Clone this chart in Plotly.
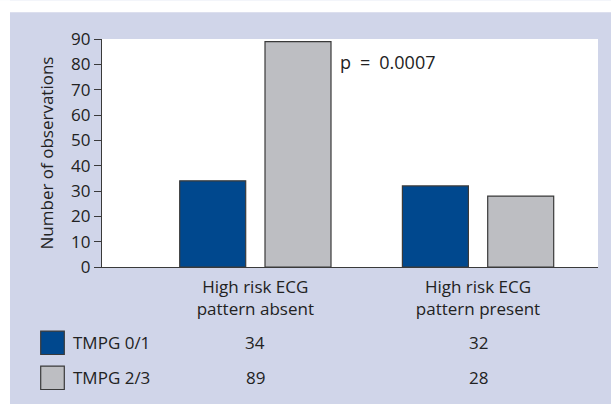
import plotly.graph_objects as go

categories = ["High risk ECG<br>pattern absent", "High risk ECG<br>pattern present"]
series_names = ["TMPG 0/1", "TMPG 2/3"]
tmpg01 = [34, 32]
tmpg23 = [89, 28]
y_ticks = [0, 10, 20, 30, 40, 50, 60, 70, 80, 90]
p_text = "p\u2002=\u20020.0007"
y_title = "Number of observations"

W, H = 611, 404
L, R, T, B = 102, 598, 38.7, 266.7
BLUE = "#00488E"
GRAY = "#BDBEC2"
PANEL = "#D0D5E9"
EDGE = "#3a3a3a"
FONT = "Open Sans"
TXT = "#222222"


def px(x):
    return (x - L) / (R - L)


def py(y):
    return (B - y) / (B - T)


# axis range so groups centre at 255.3 and 478 px
C0, C1 = 255.3, 478.0
unit = C1 - C0
x0 = (L - C0) / unit
x1 = (R - C0) / unit
bar_w = 66 / unit
offsets = [(179.7 - C0) / unit, (265.0 - C0) / unit]

fig = go.Figure()
for k, (name, vals, col) in enumerate([(series_names[0], tmpg01, BLUE), (series_names[1], tmpg23, GRAY)]):
    fig.add_trace(go.Bar(x=[0, 1], y=vals, name=name, width=bar_w, offset=offsets[k],
                         marker=dict(color=col, line=dict(color=EDGE, width=1.2)), showlegend=False))

shapes = []
# white strips outside the panel
shapes.append(dict(type="rect", xref="paper", yref="paper", x0=px(0), x1=px(W), y0=py(0), y1=py(12),
                   fillcolor="white", line=dict(width=0), layer="below"))
shapes.append(dict(type="rect", xref="paper", yref="paper", x0=px(0), x1=px(10), y0=py(H), y1=py(0),
                   fillcolor="white", line=dict(width=0), layer="below"))

annotations = []
annotations.append(dict(text=p_text, xref="paper", yref="paper", x=px(338), y=py(61.5), xanchor="left",
                        yanchor="middle", showarrow=False, font=dict(size=18, color=TXT, family=FONT)))

row_y = [342.5, 377.5]
for i, (name, vals, col) in enumerate([(series_names[0], tmpg01, BLUE), (series_names[1], tmpg23, GRAY)]):
    yc = row_y[i]
    shapes.append(dict(type="rect", xref="paper", yref="paper", x0=px(40.7), x1=px(64.3),
                       y0=py(yc + 11.7), y1=py(yc - 11.7), fillcolor=col, line=dict(color=EDGE, width=1.2)))
    annotations.append(dict(text=name, xref="paper", yref="paper", x=px(71), y=py(yc), xanchor="left",
                            yanchor="middle", showarrow=False, font=dict(size=17, color=TXT, family=FONT)))
    for j, v in enumerate(vals):
        annotations.append(dict(text=str(v), xref="x", yref="paper", x=j, y=py(yc), xanchor="center",
                                yanchor="middle", showarrow=False, font=dict(size=17, color=TXT, family=FONT)))

fig.update_layout(
    width=W, height=H,
    margin=dict(l=L, r=W - R, t=T, b=H - B, pad=0),
    paper_bgcolor=PANEL, plot_bgcolor="white",
    barmode="overlay",
    font=dict(family=FONT, size=17, color=TXT),
    shapes=shapes, annotations=annotations,
    xaxis=dict(range=[x0, x1], tickvals=[0, 1], ticktext=categories, showline=True, linecolor=EDGE,
               linewidth=1.2, ticks="", showgrid=False, zeroline=False, tickfont=dict(size=17),
               ticklabelstandoff=4),
    yaxis=dict(range=[0, 90], tickvals=y_ticks, showline=True, linecolor=EDGE, linewidth=1.2,
               ticks="outside", ticklen=7, tickcolor=EDGE, tickwidth=1.2, showgrid=False, zeroline=False,
               title=dict(text=y_title, font=dict(size=17), standoff=13), tickfont=dict(size=17)),
)

fig.write_html("out.html", config={"displayModeBar": False},
               post_script="document.body.style.margin='0';document.body.style.overflow='hidden';")
